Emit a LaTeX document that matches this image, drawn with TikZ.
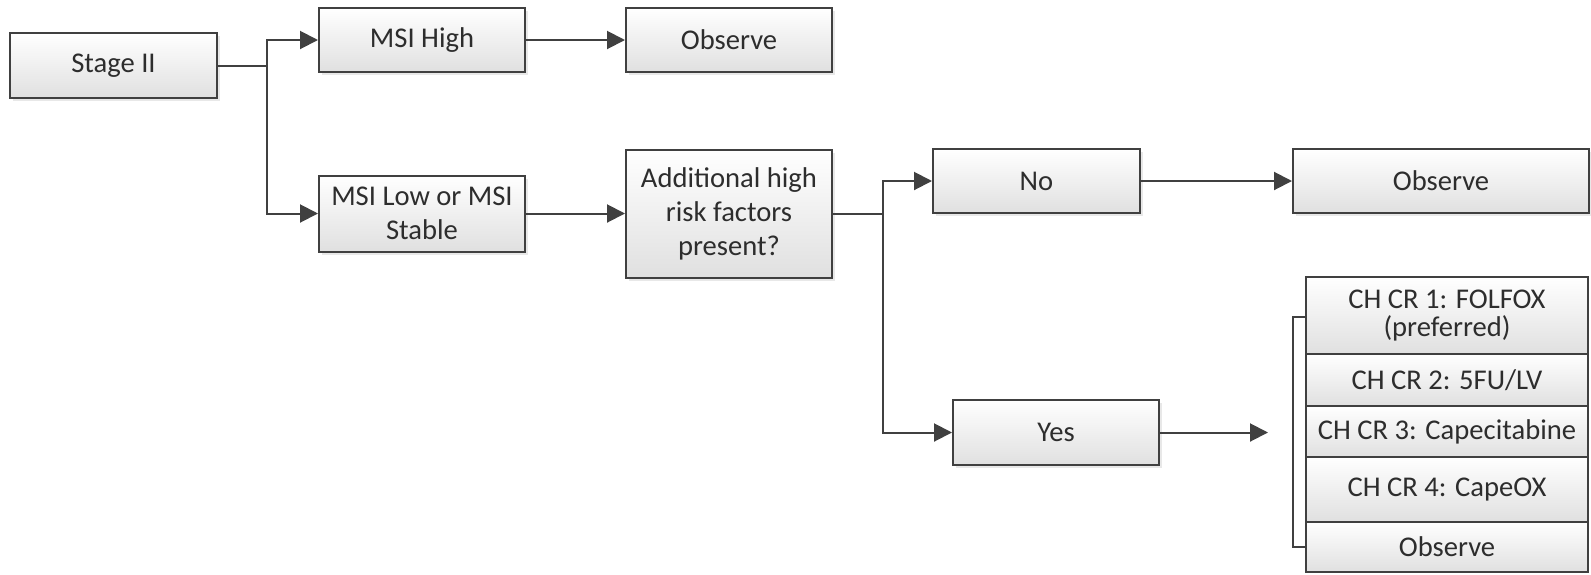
\documentclass[tikz,border=0pt]{standalone}
\usepackage{fontspec}
\setmainfont{Carlito}
\usetikzlibrary{arrows.meta,shadows}
\definecolor{edge}{RGB}{64,64,64}
\definecolor{txt}{RGB}{45,45,45}
\definecolor{boxbot}{RGB}{224,224,224}
\begin{document}
\begin{tikzpicture}[x=0.5pt,y=-0.5pt,
  box/.style={draw=edge, line width=1pt, top color=white, bottom color=boxbot,
    text=txt, align=center, inner sep=2pt, font=\fontsize{14.3pt}{17pt}\selectfont,
    minimum width=103pt, minimum height=32pt},
  shbox/.style={box, drop shadow={shadow xshift=1.5pt, shadow yshift=-1.5pt, opacity=0.18}},
  conn/.style={draw=edge, line width=1pt},
  arr/.style={conn, -{Triangle[length=9pt,width=9pt]}}]
\useasboundingbox (0,0) rectangle (1591,574);
\node[shbox, minimum width=103.5pt, minimum height=32.5pt] (stage) at (113.5,65.5) {Stage II};
\node[shbox] (msihigh) at (422,40) {MSI High};
\node[shbox] (obs1) at (729,40) {Observe};
\node[shbox, minimum height=38pt] (msilow) at (422,213.5) {MSI Low or MSI\\Stable};
\node[shbox, minimum height=64pt] (addl) at (729,213.5) {Additional high\\risk factors\\present?};
\node[shbox, minimum width=103.5pt] (no) at (1036.5,181) {No};
\node[shbox, minimum width=148pt] (obs2) at (1441,181) {Observe};
\node[shbox, minimum height=32.5pt] (yes) at (1056,432.5) {Yes};
\node[box, minimum width=141pt, minimum height=38.5pt, font=\fontsize{14.3pt}{14pt}\selectfont] (r1) at (1447,315.5) {CH CR 1: FOLFOX\\(preferred)};
\node[box, minimum width=141pt, minimum height=26pt] (r2) at (1447,380) {CH CR 2: 5FU/LV};
\node[box, minimum width=141pt, minimum height=25.5pt] (r3) at (1447,431.5) {CH CR 3: Capecitabine};
\node[box, minimum width=141pt, minimum height=32.5pt] (r4) at (1447,489.5) {CH CR 4: CapeOX};
\node[box, minimum width=141pt, minimum height=25pt] (r5) at (1447,547) {Observe};
\coordinate (b1) at (267,65.5);
\coordinate (b2) at (883,213.5);
\coordinate (tip) at (1268,432.5);
\coordinate (bt) at (1293,317);
\coordinate (bb) at (1293,547);
\draw[conn] (stage.east) -- (b1);
\draw[arr] (b1) |- (msihigh.west);
\draw[arr] (b1) |- (msilow.west);
\draw[arr] (msihigh.east) -- (obs1.west);
\draw[arr] (msilow.east) -- (addl.west);
\draw[conn] (addl.east) -- (b2);
\draw[arr] (b2) |- (no.west);
\draw[arr] (b2) |- (yes.west);
\draw[arr] (no.east) -- (obs2.west);
\draw[arr] (yes.east) -- (tip);
\draw[conn] (r1.west |- bt) -- (bt) -- (bb) -- (r5.west |- bb);
\end{tikzpicture}
\end{document}
